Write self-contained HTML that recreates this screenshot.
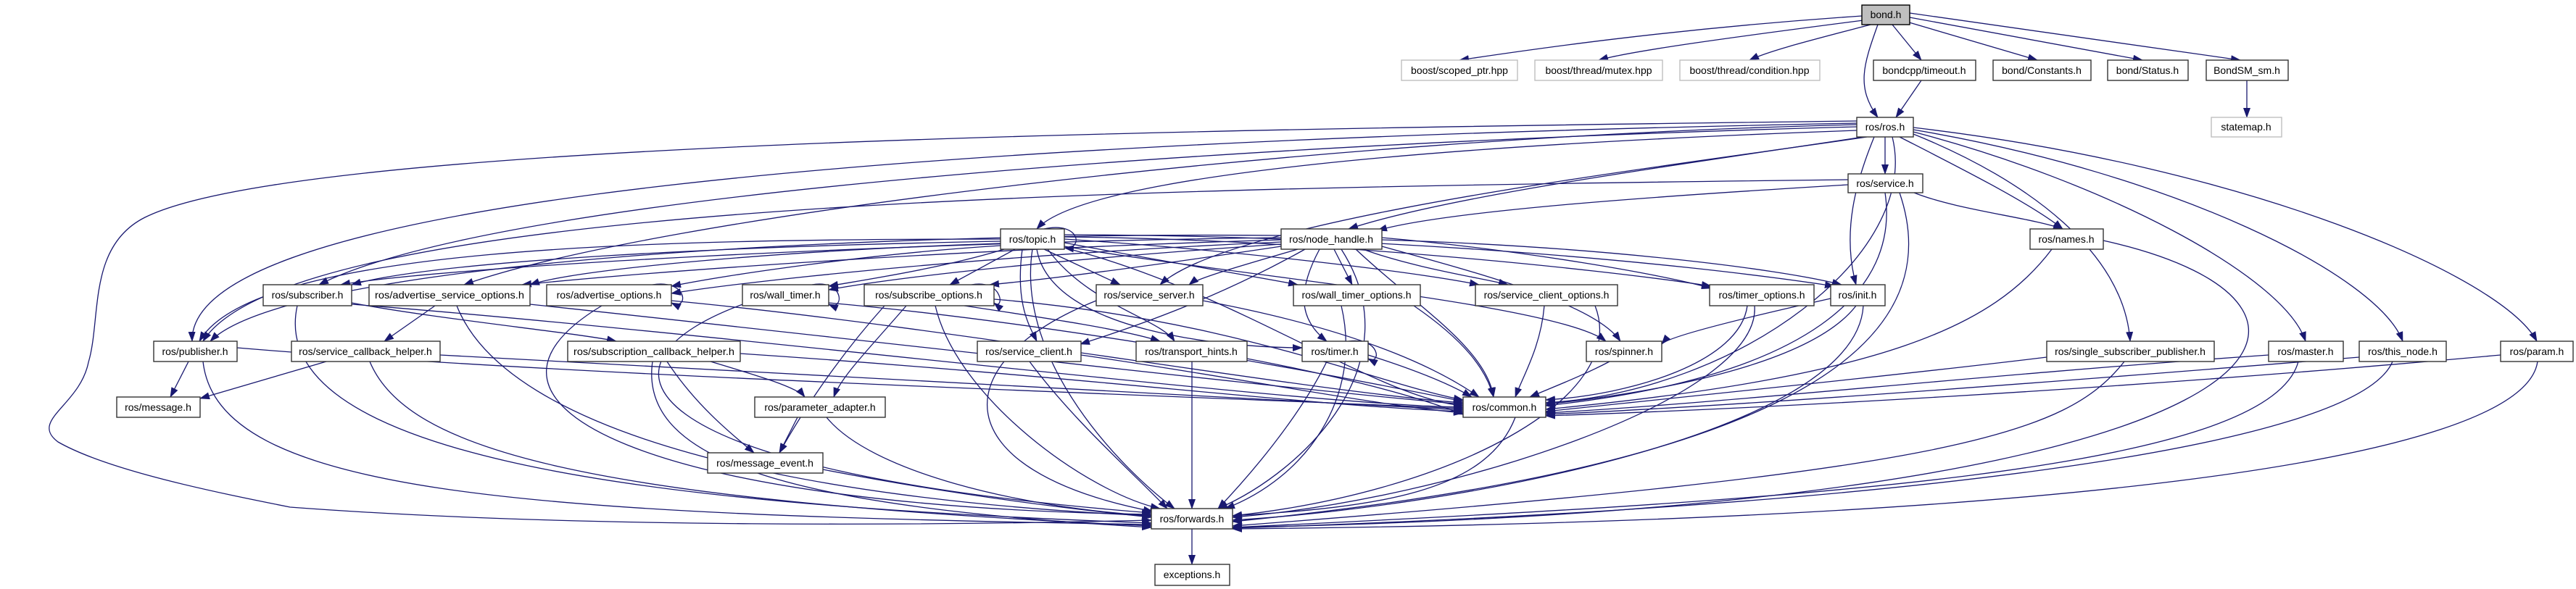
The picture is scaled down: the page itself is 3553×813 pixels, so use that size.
<!DOCTYPE html>
<html><head><meta charset="utf-8"><style>
html,body{margin:0;padding:0;background:#fff;}
svg{display:block;}
text{font-family:"Liberation Sans",sans-serif;font-size:14px;fill:#000;}
.e{fill:none;stroke:#191970;stroke-width:1.3;marker-end:url(#a);}
.n{fill:#fff;stroke:#333;stroke-width:1.4;}
.g{fill:#fff;stroke:#bfbfbf;stroke-width:1.4;}
</style></head><body>
<svg width="3553" height="813" viewBox="0 0 3553 813" xmlns="http://www.w3.org/2000/svg">
<defs><marker id="a" viewBox="0 0 14 10" refX="13" refY="5" markerWidth="14" markerHeight="10" markerUnits="userSpaceOnUse" orient="auto"><path d="M0,0L14,5L0,10z" fill="#191970"/></marker></defs>
<g>
<path class="e" d="M2568,22 C2300,40 2100,70 2013,83"/>
<path class="e" d="M2570,28 C2400,50 2250,70 2205,83"/>
<path class="e" d="M2580,34 C2500,55 2440,70 2413,83"/>
<path class="e" d="M2590,34 C2570,90 2560,120 2590,162"/>
<path class="e" d="M2610,34 L2650,83"/>
<path class="e" d="M2630,30 L2810,83"/>
<path class="e" d="M2634,24 L2955,83"/>
<path class="e" d="M2634,18 L3090,83"/>
<path class="e" d="M2650,111 L2615,162"/>
<path class="e" d="M3099,111 L3099,162"/>
<path class="e" d="M2600,189 L2600,240"/>
<path class="e" d="M2561,180 C2000,200 1500,240 1430,316"/>
<path class="e" d="M2570,189 C2300,230 2000,270 1860,316"/>
<path class="e" d="M2620,189 C2700,230 2800,280 2845,316"/>
<path class="e" d="M2585,189 C2560,250 2540,320 2560,393"/>
<path class="e" d="M2610,189 C2650,350 2400,540 2132,556"/>
<path class="e" d="M2639,185 C2800,250 2930,350 2938,471"/>
<path class="e" d="M2639,182 C2900,250 3150,380 3180,471"/>
<path class="e" d="M2639,179 C3000,240 3280,380 3314,471"/>
<path class="e" d="M2639,176 C3100,230 3450,380 3499,471"/>
<path class="e" d="M2561,170 C1000,200 260,300 265,471"/>
<path class="e" d="M2561,175 C1800,195 700,260 440,393"/>
<path class="e" d="M2561,172 C1800,190 900,300 640,393"/>
<path class="e" d="M2575,189 C2300,230 1700,300 1600,393"/>
<path class="e" d="M2561,167 C1500,180 400,200 200,300 C120,340 140,440 122,500 C110,560 40,580 80,610 C150,650 300,680 400,700 C800,730 1300,725 1588,718"/>
<path class="e" d="M2640,266 C2700,290 2800,300 2845,316"/>
<path class="e" d="M2549,255 C2300,270 2000,290 1900,318"/>
<path class="e" d="M2600,266 C2620,400 2500,520 2132,560"/>
<path class="e" d="M2620,266 C2700,500 2400,650 1700,720"/>
<path class="e" d="M2549,248 C1500,260 400,280 280,471"/>
<path class="e" d="M1440,316 C1490,305 1495,345 1468,342"/>
<path class="e" d="M1380,330 C900,330 350,340 275,471"/>
<path class="e" d="M1380,333 C1000,340 600,360 485,393"/>
<path class="e" d="M1380,336 C1100,345 800,370 731,393"/>
<path class="e" d="M1380,339 C1200,350 1000,380 926,395"/>
<path class="e" d="M1385,344 C1300,370 1200,385 1143,395"/>
<path class="e" d="M1400,344 L1310,393"/>
<path class="e" d="M1440,344 L1545,393"/>
<path class="e" d="M1468,335 C1600,360 1750,385 1790,393"/>
<path class="e" d="M1468,330 C1700,345 1950,375 2040,393"/>
<path class="e" d="M1468,327 C1800,330 2200,370 2360,395"/>
<path class="e" d="M1468,324 C1900,325 2300,360 2530,395"/>
<path class="e" d="M1410,344 C1400,420 1420,450 1430,471"/>
<path class="e" d="M1445,344 C1500,420 1600,440 1620,471"/>
<path class="e" d="M1430,344 C1450,460 1700,480 1796,480"/>
<path class="e" d="M1468,340 C1700,380 2150,420 2215,471"/>
<path class="e" d="M1468,342 C1700,400 1900,550 2018,560"/>
<path class="e" d="M1424,344 C1400,500 1550,650 1620,702"/>
<path class="e" d="M1767,325 C1200,320 400,360 290,471"/>
<path class="e" d="M1767,328 C1200,335 600,370 470,393"/>
<path class="e" d="M1767,331 C1300,345 900,375 720,393"/>
<path class="e" d="M1767,334 C1400,350 1050,385 926,405"/>
<path class="e" d="M1767,337 C1500,355 1250,380 1143,400"/>
<path class="e" d="M1767,340 C1600,365 1450,385 1365,393"/>
<path class="e" d="M1790,344 C1700,370 1650,385 1640,393"/>
<path class="e" d="M1840,344 L1865,393"/>
<path class="e" d="M1880,344 C1950,370 2050,385 2080,393"/>
<path class="e" d="M1906,328 C2100,345 2300,380 2360,398"/>
<path class="e" d="M1906,331 C2200,340 2450,370 2540,393"/>
<path class="e" d="M1820,344 C1790,400 1790,440 1830,471"/>
<path class="e" d="M1800,344 C1700,400 1600,440 1490,475"/>
<path class="e" d="M1906,340 C2050,380 2200,420 2235,471"/>
<path class="e" d="M1870,344 C1950,420 2050,480 2060,548"/>
<path class="e" d="M1850,344 C1950,500 1800,650 1680,702"/>
<path class="e" d="M2830,344 C2750,450 2600,520 2132,565"/>
<path class="e" d="M2901,332 C3300,420 3200,700 1700,728"/>
<path class="e" d="M485,418 C600,440 800,460 850,471"/>
<path class="e" d="M485,420 C1000,460 1800,560 2018,562"/>
<path class="e" d="M410,422 C360,650 1000,700 1588,722"/>
<path class="e" d="M600,422 L530,471"/>
<path class="e" d="M731,420 C1200,470 1800,540 2018,558"/>
<path class="e" d="M630,422 C700,600 1100,690 1588,712"/>
<path class="e" d="M900,393 C950,385 950,430 926,418"/>
<path class="e" d="M830,422 C600,560 900,700 1588,710"/>
<path class="e" d="M926,415 C1300,450 1800,540 2018,556"/>
<path class="e" d="M1120,393 C1165,385 1165,430 1143,420"/>
<path class="e" d="M1143,418 C1500,450 1900,530 2018,554"/>
<path class="e" d="M1030,418 C800,500 850,650 1588,708"/>
<path class="e" d="M1340,393 C1385,385 1385,430 1371,418"/>
<path class="e" d="M1330,422 C1450,440 1550,455 1600,471"/>
<path class="e" d="M1250,422 C1200,480 1160,520 1150,548"/>
<path class="e" d="M1220,422 C1150,500 1100,580 1075,625"/>
<path class="e" d="M1371,413 C1700,440 1900,530 2018,552"/>
<path class="e" d="M1290,422 C1320,550 1500,680 1600,702"/>
<path class="e" d="M1659,415 C1900,460 2000,520 2040,548"/>
<path class="e" d="M1512,415 C1300,500 1300,650 1590,706"/>
<path class="e" d="M1950,422 C2020,470 2050,510 2060,548"/>
<path class="e" d="M1850,422 C1880,550 1800,660 1690,702"/>
<path class="e" d="M2130,422 C2125,480 2100,520 2090,548"/>
<path class="e" d="M2200,422 C2250,550 2000,680 1700,712"/>
<path class="e" d="M2410,422 C2400,500 2250,545 2132,552"/>
<path class="e" d="M2420,422 C2430,550 2000,690 1700,714"/>
<path class="e" d="M2525,412 C2400,440 2300,465 2292,475"/>
<path class="e" d="M2560,422 C2500,500 2300,540 2132,558"/>
<path class="e" d="M2570,422 C2560,600 2000,700 1700,718"/>
<path class="e" d="M260,499 L235,548"/>
<path class="e" d="M327,480 C800,520 1600,545 2018,564"/>
<path class="e" d="M280,499 C300,680 700,710 1588,724"/>
<path class="e" d="M450,499 L276,550"/>
<path class="e" d="M607,490 C1200,520 1700,550 2018,566"/>
<path class="e" d="M510,499 C560,620 800,690 1588,726"/>
<path class="e" d="M980,499 C1050,520 1100,535 1110,548"/>
<path class="e" d="M920,499 C960,560 1010,600 1040,625"/>
<path class="e" d="M1021,488 C1500,520 1800,560 2018,568"/>
<path class="e" d="M900,499 C880,640 1100,700 1588,728"/>
<path class="e" d="M1491,490 C1700,520 1900,560 2018,570"/>
<path class="e" d="M1420,499 C1480,580 1560,650 1610,702"/>
<path class="e" d="M1720,495 C1850,520 1950,545 2018,572"/>
<path class="e" d="M1644,499 L1644,702"/>
<path class="e" d="M1860,471 C1905,465 1905,505 1887,495"/>
<path class="e" d="M1887,490 C1950,510 2000,530 2030,548"/>
<path class="e" d="M1830,499 C1790,580 1720,660 1680,702"/>
<path class="e" d="M2220,499 C2180,520 2140,535 2110,548"/>
<path class="e" d="M2823,493 C2600,520 2300,550 2132,568"/>
<path class="e" d="M2930,499 C2850,600 2700,650 1700,726"/>
<path class="e" d="M3129,490 C2700,520 2400,555 2132,570"/>
<path class="e" d="M3170,499 C3130,650 2500,690 1700,728"/>
<path class="e" d="M3254,493 C2800,530 2400,560 2132,572"/>
<path class="e" d="M3300,499 C3250,620 2600,700 1700,729"/>
<path class="e" d="M3449,490 C2900,540 2400,565 2132,574"/>
<path class="e" d="M3500,499 C3480,640 2800,720 1700,730"/>
<path class="e" d="M1100,576 L1075,625"/>
<path class="e" d="M1140,576 C1200,650 1400,700 1588,712"/>
<path class="e" d="M1135,648 C1300,680 1450,700 1588,714"/>
<path class="e" d="M2090,576 C2050,680 1900,700 1700,712"/>
<path class="e" d="M1644,730 L1644,779"/>
</g>
<g>
<rect x="2568" y="7" width="66" height="27" fill="#bfbfbf" stroke="#000" stroke-width="1.4"/><text x="2601" y="25" text-anchor="middle">bond.h</text>
<rect class="g" x="1933" y="83" width="160" height="28"/><text x="2013" y="102" text-anchor="middle">boost/scoped_ptr.hpp</text>
<rect class="g" x="2117" y="83" width="176" height="28"/><text x="2205" y="102" text-anchor="middle">boost/thread/mutex.hpp</text>
<rect class="g" x="2317" y="83" width="193" height="28"/><text x="2413" y="102" text-anchor="middle">boost/thread/condition.hpp</text>
<rect class="n" x="2584" y="83" width="141" height="28"/><text x="2654" y="102" text-anchor="middle">bondcpp/timeout.h</text>
<rect class="n" x="2749" y="83" width="135" height="28"/><text x="2816" y="102" text-anchor="middle">bond/Constants.h</text>
<rect class="n" x="2907" y="83" width="111" height="28"/><text x="2962" y="102" text-anchor="middle">bond/Status.h</text>
<rect class="n" x="3043" y="83" width="113" height="28"/><text x="3099" y="102" text-anchor="middle">BondSM_sm.h</text>
<rect class="n" x="2561" y="162" width="78" height="27"/><text x="2600" y="180" text-anchor="middle">ros/ros.h</text>
<rect class="g" x="3050" y="162" width="97" height="27"/><text x="3098" y="180" text-anchor="middle">statemap.h</text>
<rect class="n" x="2549" y="240" width="103" height="26"/><text x="2600" y="258" text-anchor="middle">ros/service.h</text>
<rect class="n" x="1380" y="316" width="88" height="28"/><text x="1424" y="335" text-anchor="middle">ros/topic.h</text>
<rect class="n" x="1767" y="316" width="139" height="28"/><text x="1836" y="335" text-anchor="middle">ros/node_handle.h</text>
<rect class="n" x="2800" y="316" width="101" height="28"/><text x="2850" y="335" text-anchor="middle">ros/names.h</text>
<rect class="n" x="363" y="393" width="122" height="29"/><text x="424" y="412" text-anchor="middle">ros/subscriber.h</text>
<rect class="n" x="509" y="393" width="222" height="29"/><text x="620" y="412" text-anchor="middle" textLength="206" lengthAdjust="spacingAndGlyphs">ros/advertise_service_options.h</text>
<rect class="n" x="754" y="393" width="172" height="29"/><text x="840" y="412" text-anchor="middle">ros/advertise_options.h</text>
<rect class="n" x="1024" y="393" width="119" height="29"/><text x="1083" y="412" text-anchor="middle">ros/wall_timer.h</text>
<rect class="n" x="1192" y="393" width="179" height="29"/><text x="1281" y="412" text-anchor="middle">ros/subscribe_options.h</text>
<rect class="n" x="1512" y="393" width="147" height="29"/><text x="1585" y="412" text-anchor="middle">ros/service_server.h</text>
<rect class="n" x="1784" y="393" width="175" height="29"/><text x="1871" y="412" text-anchor="middle">ros/wall_timer_options.h</text>
<rect class="n" x="2035" y="393" width="196" height="29"/><text x="2133" y="412" text-anchor="middle">ros/service_client_options.h</text>
<rect class="n" x="2358" y="393" width="144" height="29"/><text x="2430" y="412" text-anchor="middle">ros/timer_options.h</text>
<rect class="n" x="2525" y="393" width="75" height="29"/><text x="2562" y="412" text-anchor="middle">ros/init.h</text>
<rect class="n" x="212" y="471" width="115" height="28"/><text x="269" y="490" text-anchor="middle">ros/publisher.h</text>
<rect class="n" x="402" y="471" width="205" height="28"/><text x="504" y="490" text-anchor="middle">ros/service_callback_helper.h</text>
<rect class="n" x="783" y="471" width="238" height="28"/><text x="902" y="490" text-anchor="middle" textLength="222" lengthAdjust="spacingAndGlyphs">ros/subscription_callback_helper.h</text>
<rect class="n" x="1348" y="471" width="143" height="28"/><text x="1419" y="490" text-anchor="middle">ros/service_client.h</text>
<rect class="n" x="1567" y="471" width="153" height="28"/><text x="1643" y="490" text-anchor="middle">ros/transport_hints.h</text>
<rect class="n" x="1796" y="471" width="91" height="28"/><text x="1841" y="490" text-anchor="middle">ros/timer.h</text>
<rect class="n" x="2188" y="471" width="104" height="28"/><text x="2240" y="490" text-anchor="middle">ros/spinner.h</text>
<rect class="n" x="2823" y="471" width="231" height="28"/><text x="2938" y="490" text-anchor="middle">ros/single_subscriber_publisher.h</text>
<rect class="n" x="3129" y="471" width="103" height="28"/><text x="3180" y="490" text-anchor="middle">ros/master.h</text>
<rect class="n" x="3254" y="471" width="120" height="28"/><text x="3314" y="490" text-anchor="middle">ros/this_node.h</text>
<rect class="n" x="3449" y="471" width="100" height="28"/><text x="3499" y="490" text-anchor="middle">ros/param.h</text>
<rect class="n" x="161" y="548" width="115" height="28"/><text x="218" y="567" text-anchor="middle">ros/message.h</text>
<rect class="n" x="1041" y="548" width="180" height="28"/><text x="1131" y="567" text-anchor="middle">ros/parameter_adapter.h</text>
<rect class="n" x="2018" y="548" width="114" height="28"/><text x="2075" y="567" text-anchor="middle">ros/common.h</text>
<rect class="n" x="976" y="625" width="159" height="28"/><text x="1055" y="644" text-anchor="middle">ros/message_event.h</text>
<rect class="n" x="1588" y="702" width="112" height="28"/><text x="1644" y="721" text-anchor="middle">ros/forwards.h</text>
<rect class="n" x="1593" y="779" width="103" height="29"/><text x="1644" y="798" text-anchor="middle">exceptions.h</text>
</g>
</svg>
</body></html>
